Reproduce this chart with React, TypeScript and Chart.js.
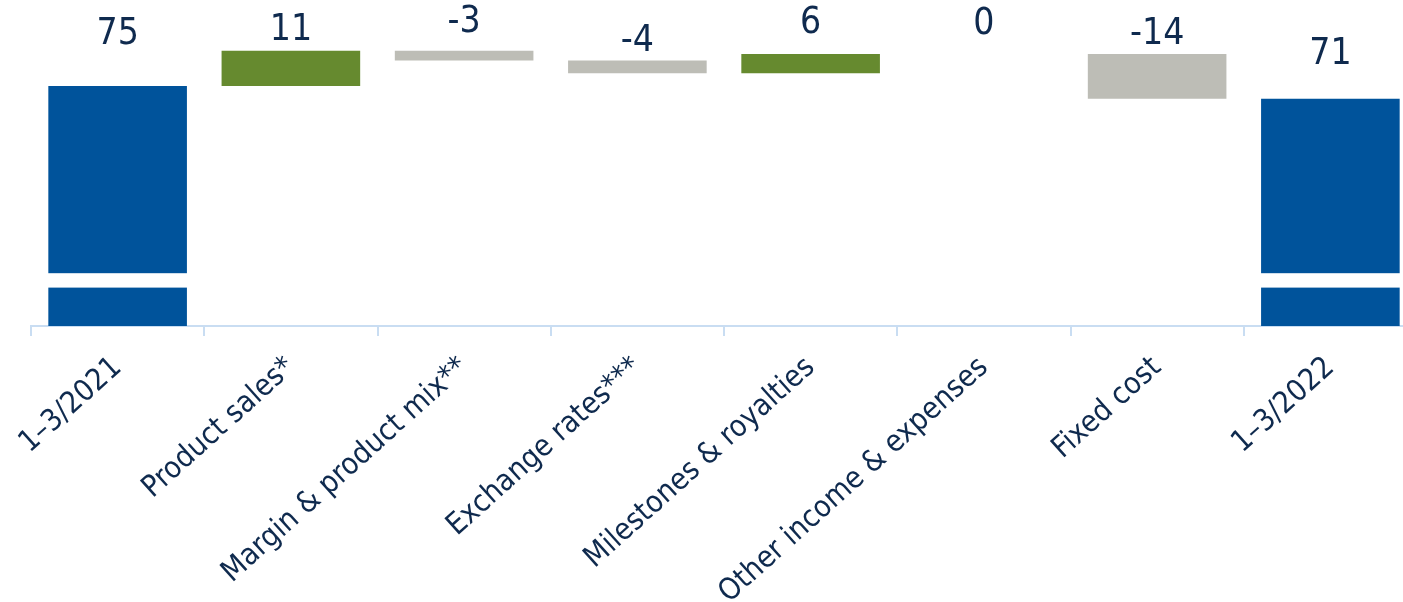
import React, { useEffect, useRef } from "react";
import { Chart, registerables } from "chart.js";

Chart.register(...registerables);

// ---- data ----
const categories = [
  "1–3/2021",
  "Product sales*",
  "Margin & product mix**",
  "Exchange rates***",
  "Milestones & royalties",
  "Other income & expenses",
  "Fixed cost",
  "1–3/2022",
];
const changes = [75, 11, -3, -4, 6, 0, -14, 71];
const isTotal = [true, false, false, false, false, false, false, true];
const valueLabels = ["75", "11", "-3", "-4", "6", "0", "-14", "71"];
const axisBreak = [12, 16.5]; // value range hidden by the axis-break band on total bars

// ---- styles ----
const BLUE = "#00539b";
const GREEN = "#668a2f";
const GREY = "#bdbdb6";
const TEXT = "#0f2a4e";
const AXIS = "#c9ddf2";
const FONT = "'DejaVu Sans Condensed', 'DejaVu Sans', sans-serif";
const labelLift = [52, 20, 28, 19, 31, 30, 20, 44];

function buildRanges(): [number, number][] {
  let run = 0;
  return changes.map((v, i) => {
    if (isTotal[i]) {
      run = v;
      return [0, v] as [number, number];
    }
    const start = run;
    run += v;
    return [start, run] as [number, number];
  });
}

export default function App() {
  const ref = useRef<HTMLCanvasElement>(null);

  useEffect(() => {
    if (!ref.current) return;
    const ranges = buildRanges();
    const colors = changes.map((v, i) =>
      isTotal[i] ? BLUE : v > 0 ? GREEN : v < 0 ? GREY : "rgba(0,0,0,0)"
    );

    const breakPlugin = {
      id: "axisBreak",
      afterDatasetsDraw(chart: any) {
        const ctx = chart.ctx;
        const meta = chart.getDatasetMeta(0);
        const y = chart.scales.y;
        const yTop = y.getPixelForValue(axisBreak[1]);
        const yBot = y.getPixelForValue(axisBreak[0]);
        ctx.save();
        meta.data.forEach((bar: any, i: number) => {
          if (!isTotal[i]) return;
          const w = bar.width;
          ctx.fillStyle = "#ffffff";
          ctx.fillRect(bar.x - w / 2 - 1, yTop, w + 2, yBot - yTop);
        });
        ctx.restore();
      },
    };

    const labelPlugin = {
      id: "valueLabels",
      afterDatasetsDraw(chart: any) {
        const ctx = chart.ctx;
        const meta = chart.getDatasetMeta(0);
        ctx.save();
        ctx.font = `37px ${FONT}`;
        ctx.fillStyle = TEXT;
        ctx.textAlign = "center";
        ctx.textBaseline = "middle";
        meta.data.forEach((bar: any, i: number) => {
          const top = Math.min(bar.y, bar.base);
          ctx.fillText(valueLabels[i], bar.x, top - labelLift[i]);
        });
        ctx.restore();
      },
    };

    const chart = new Chart(ref.current, {
      type: "bar",
      data: {
        labels: categories,
        datasets: [
          {
            data: ranges as any,
            backgroundColor: colors,
            borderWidth: 0,
            categoryPercentage: 1,
            barPercentage: 0.8,
          },
        ],
      },
      options: {
        animation: false,
        responsive: false,
        layout: { padding: { left: 31, right: 13, top: 6, bottom: 0 } },
        plugins: {
          legend: { display: false },
          tooltip: { enabled: false },
        },
        scales: {
          x: {
            offset: true,
            border: { display: true, color: AXIS, width: 2 },
            grid: {
              display: true,
              offset: true,
              drawOnChartArea: false,
              drawTicks: true,
              tickLength: 10,
              color: AXIS,
              lineWidth: 2,
            },
            ticks: {
              minRotation: 42,
              maxRotation: 42,
              autoSkip: false,
              padding: 14,
              color: TEXT,
              font: { family: FONT, size: 30 },
            },
            afterFit(scale: any) {
              scale.height = 276;
            },
          },
          y: {
            display: false,
            min: 0,
            max: 100,
          },
        },
      },
      plugins: [breakPlugin, labelPlugin],
    });
    return () => chart.destroy();
  }, []);

  return (
    <div
      style={{
        position: "absolute",
        left: 0,
        top: 0,
        width: 1403,
        height: 602,
        overflow: "hidden",
        background: "#fff",
      }}
    >
      <canvas ref={ref} width={1430} height={602} style={{ display: "block" }} />
    </div>
  );
}
